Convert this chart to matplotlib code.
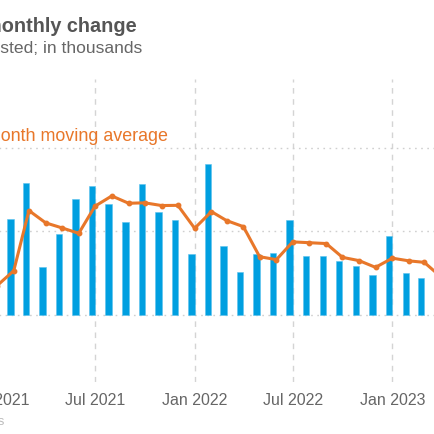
import matplotlib
matplotlib.use("Agg")
import matplotlib.pyplot as plt
import matplotlib.dates as mdates
from datetime import datetime

plt.rcParams['font.family'] = ['Liberation Sans', 'DejaVu Sans']

# ---- data ----
months = ["2021-01", "2021-02", "2021-03", "2021-04", "2021-05", "2021-06",
          "2021-07", "2021-08", "2021-09", "2021-10", "2021-11", "2021-12",
          "2022-01", "2022-02", "2022-03", "2022-04", "2022-05", "2022-06",
          "2022-07", "2022-08", "2022-09", "2022-10", "2022-11", "2022-12",
          "2023-01", "2023-02", "2023-03", "2023-04"]
monthly_change = [409, 460, 631, 230, 387, 556,
                  616, 530, 447, 626, 493, 457,
                  292, 723, 332, 204, 292, 297,
                  455, 283, 281, 260, 233, 192,
                  378, 200, 176, 170]
moving_avg_3m = [140, 212, 500, 441, 417, 391,
                 521, 570, 535, 537, 524, 525,
                 415, 495, 452, 423, 279, 265,
                 350, 346, 342, 276, 260, 228,
                 272, 259, 252, 182]
tick_months = ["2021-01", "2021-07", "2022-01", "2022-07", "2023-01", "2023-07"]
tick_labels = ["Jan 2021", "Jul 2021", "Jan 2022", "Jul 2022", "Jan 2023", "Jul 2023"]
y_ticks = [0, 400, 800]

title = "Nonfarm payrolls: monthly change"
subtitle = "Seasonally adjusted; in thousands"
legend_label = "3-month moving average"
source = "Source: Bureau of Labor Statistics"

# ---- figure ----
W = H = 435
fig = plt.figure(figsize=(W / 100, H / 100), dpi=100)
L_px, R_px, T_px, B_px = -120, 560, 80, 383
ax = fig.add_axes([L_px / W, 1 - B_px / H, (R_px - L_px) / W, (B_px - T_px) / H])

dates = [mdates.date2num(datetime.strptime(m, "%Y-%m")) for m in months]
tick_pos = [mdates.date2num(datetime.strptime(m, "%Y-%m")) for m in tick_months]

px_per_day = (392.3 - 95.0) / 549.0
ref = mdates.date2num(datetime(2021, 7, 1))

bar_w = 6.3 / px_per_day
ax.bar(dates, monthly_change, width=-bar_w, align='edge', color='#009FE0',
       edgecolor='#5cc3ee', linewidth=0.4, zorder=2)
ax.plot(dates, moving_avg_3m, color='#E8772A', linewidth=2.2, marker='o',
        markersize=3.2, zorder=3, solid_joinstyle='round')

ax.set_xticks(tick_pos)
ax.set_xticklabels(tick_labels)
ax.set_yticks(y_ticks)
ax.set_yticklabels([str(v) for v in y_ticks])
ax.set_xlim(ref - (95 - L_px) / px_per_day, ref + (R_px - 95) / px_per_day)
ax.set_ylim(-321, 1130)
ax.tick_params(axis='x', length=0, pad=7.5, labelsize=11.5, labelcolor='#666666')
ax.tick_params(axis='y', length=0, labelsize=11, labelcolor='#666666')
for s in ax.spines.values():
    s.set_visible(False)
ax.set_axisbelow(True)
ax.yaxis.grid(True, color='#cfcfcf', linestyle=(0, (1.2, 3.2)), linewidth=1.0)
ax.xaxis.grid(True, color='#d4d4d4', linestyle=(0, (4, 4)), linewidth=1.0)

def fx(px):
    return px / W

def fy(py):
    return 1 - py / H

fig.text(fx(137), fy(31.7), title, ha='right', va='baseline', fontsize=14.3,
         fontweight='bold', color='#555555')
fig.text(fx(142), fy(52.7), subtitle, ha='right', va='baseline', fontsize=12.6,
         color='#666666')
fig.text(fx(168), fy(141), legend_label, ha='right', va='baseline', fontsize=12.9,
         color='#E8772A')
fig.text(fx(4.5), fy(425), source, ha='right', va='baseline', fontsize=9.5,
         color='#bbbbbb')

fig.savefig("out.png", dpi=100)
